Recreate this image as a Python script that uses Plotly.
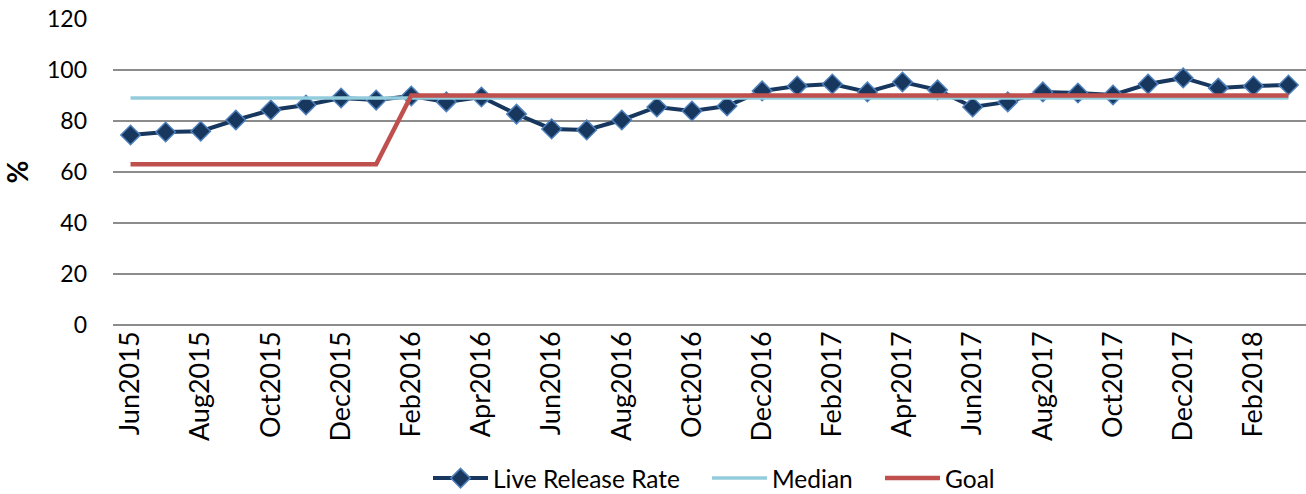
import plotly.graph_objects as go

months = ["Jun2015","Jul2015","Aug2015","Sep2015","Oct2015","Nov2015","Dec2015","Jan2016",
          "Feb2016","Mar2016","Apr2016","May2016","Jun2016","Jul2016","Aug2016","Sep2016",
          "Oct2016","Nov2016","Dec2016","Jan2017","Feb2017","Mar2017","Apr2017","May2017",
          "Jun2017","Jul2017","Aug2017","Sep2017","Oct2017","Nov2017","Dec2017","Jan2018",
          "Feb2018","Mar2018"]
live_release_rate = [74.5,75.7,76.0,80.4,84.3,86.3,89.0,88.2,
                     89.8,87.5,89.4,82.7,76.9,76.5,80.4,85.5,
                     83.9,85.9,91.8,93.7,94.5,91.4,95.3,92.2,
                     85.5,87.5,91.4,91.0,90.2,94.5,96.9,92.9,
                     93.7,94.1]
median = [89.0]*len(months)
goal = [63.0]*8 + [90.0]*26
tick_labels = months[::2]

FONT = "Lato"
LEG_FONT = dict(family=FONT, size=24.5)

fig = go.Figure()
fig.add_trace(go.Scatter(x=months, y=live_release_rate, name="Live Release Rate",
                         mode="lines+markers", legend="legend",
                         line=dict(color="#17375E", width=4),
                         marker=dict(symbol="diamond", size=15, color="#17375E",
                                     line=dict(color="#4F81BD", width=1.5))))
fig.add_trace(go.Scatter(x=months, y=median, name="Median", mode="lines",
                         legend="legend2",
                         line=dict(color="#93CDDD", width=3.5)))
fig.add_trace(go.Scatter(x=months, y=goal, name="Goal", mode="lines",
                         legend="legend3",
                         line=dict(color="#C0504D", width=4.5)))

def leg(xpx):
    return dict(orientation="h", xref="container", x=xpx/1306, xanchor="left",
                yref="container", y=0.032, yanchor="middle",
                font=LEG_FONT, itemwidth=55, bgcolor="rgba(0,0,0,0)")

fig.update_layout(
    width=1306, height=494,
    margin=dict(l=113, r=0, t=19, b=169),
    paper_bgcolor="white", plot_bgcolor="white",
    font=dict(family=FONT, size=23, color="black"),
    showlegend=True,
    legend=leg(428), legend2=leg(707), legend3=leg(880),
    xaxis=dict(type="category", categoryorder="array", categoryarray=months,
               range=[-0.5, len(months)-0.5], automargin=False,
               tickmode="array", tickvals=tick_labels, ticktext=tick_labels,
               tickangle=-90, showgrid=False, showline=False, zeroline=False,
               ticks="", tickfont=dict(family=FONT, size=27)),
    yaxis=dict(range=[0, 120], dtick=20, showgrid=True, gridcolor="#8C8C8C",
               gridwidth=1.5, zeroline=True, zerolinecolor="#8C8C8C", zerolinewidth=1.5,
               showline=False, ticks="", ticklen=0, automargin=False,
               ticklabelstandoff=25,
               tickfont=dict(family=FONT, size=23),
               title=dict(text="<b>%</b>", font=dict(family=FONT, size=28), standoff=31)),
)

fig.write_html("out.html", config={"displayModeBar": False},
               post_script="document.body.style.margin='0';")
